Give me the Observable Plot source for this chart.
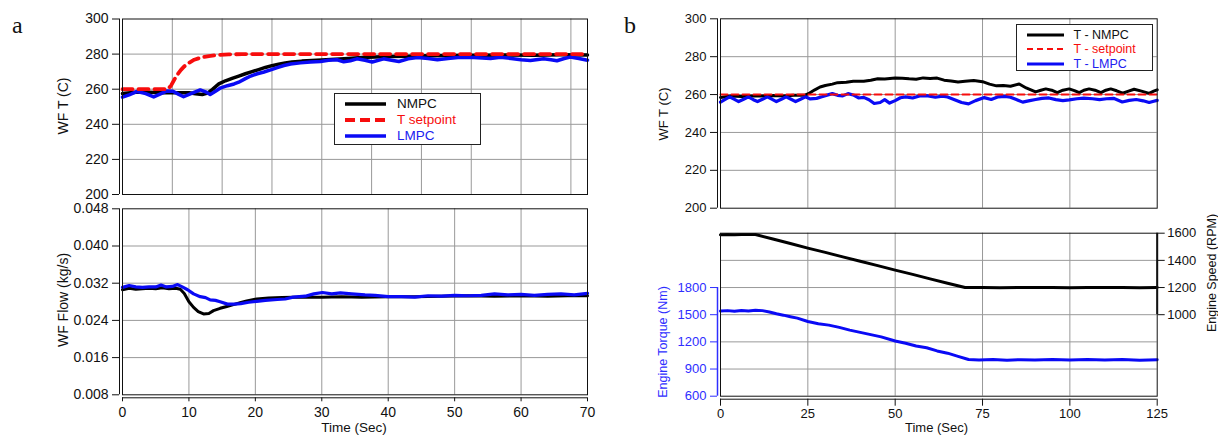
<!DOCTYPE html>
<html><head><meta charset="utf-8">
<script src="https://cdn.jsdelivr.net/npm/d3@7"></script>
<script src="https://cdn.jsdelivr.net/npm/@observablehq/plot@0.6"></script>
<style>
body{margin:0;background:#fff;}
#root{position:relative;width:1218px;height:436px;overflow:hidden;font-family:"Liberation Sans",Arial,Helvetica,sans-serif;color:#111;}
.vlab{position:absolute;transform:translate(-50%,-50%) rotate(-90deg);white-space:nowrap;line-height:1;}
.hlab{position:absolute;transform:translateX(-50%);white-space:nowrap;line-height:1;}
.panel{position:absolute;font-family:"Liberation Serif","Times New Roman",serif;font-size:24px;line-height:1;}
.legend{position:absolute;border:1px solid #222;background:#fff;box-sizing:border-box;}
.legend .row{position:absolute;left:0;right:0;height:16px;}
.legend svg{position:absolute;top:0;}
.legend span{position:absolute;top:0;line-height:16px;white-space:nowrap;}
</style></head>
<body><div id="root"></div>
<script>
// ---------- data ----------
// Panel a, top: working-fluid temperature (C) vs time (s)
const aSetpointT = [[0,260],[6.8,260],[7.3,262],[7.8,265.5],[8.3,268.5],[8.8,271],[9.3,273],[10,275],[10.8,276.8],[11.8,278],[13,278.9],[14.5,279.5],[16,279.8],[18,280],[70,280]];
const aNmpcT = [[0,257.5],[2,258.2],[4,258.3],[6,258],[8,258],[10,258],[11,257.4],[12,257],[12.8,257.8],[13.5,259.8],[14.5,263],[15.5,264.8],[16.5,266.2],[17.5,267.5],[18.5,268.8],[19.5,270],[20.5,271.2],[21.5,272.4],[22.5,273.4],[23.5,274.3],[24.5,275],[25.5,275.5],[27,276],[28.5,276.3],[30,276.6],[32,277],[34,277.5],[36,278],[38,278.3],[40,278.6],[43,278.8],[46,279],[50,279.2],[54,279.4],[58,279.5],[62,279.4],[66,279.6],[70,279.5]];
const aLmpcT = [[0,255.5],[1,256.8],[2.2,258.7],[3.5,257.5],[4.7,255.6],[5.8,257.5],[6.7,259],[7.6,258.8],[8.4,257.2],[9.2,255.7],[10.3,257.5],[11.7,259.6],[12.5,258.5],[13.2,257],[14,258.8],[14.8,260.8],[15.8,262],[16.8,263],[17.5,264],[18.5,266],[19.3,267.5],[20.3,268.8],[21.3,269.8],[22.3,271],[23.3,272.3],[24.3,273.5],[25.3,274.4],[26.8,275],[28.3,275.5],[29.8,275.8],[31,276.5],[32.3,276.8],[33.3,275.6],[34.3,276.2],[35.3,277.3],[36.5,276.5],[37.6,275.5],[39.3,277.3],[40.5,276.5],[41.6,275.8],[43,277.3],[44.4,278],[46,277.5],[47.4,276.8],[49,277.5],[50.5,278],[52.9,278],[55.4,277.5],[56.9,278.2],[58.5,277.5],[60,276.8],[61.4,276.4],[63.4,277.4],[64.5,276.8],[65.4,276.2],[66.5,277.5],[67.4,278.3],[68.7,277.5],[70,276.5]];
// Panel a, bottom: working-fluid flow (kg/s)
const aNmpcFlow = [[0,0.0306],[1,0.0309],[2,0.0307],[3,0.0308],[4,0.0309],[5,0.0308],[6,0.0310],[7,0.0308],[8,0.0309],[8.7,0.0307],[9.3,0.0298],[10,0.0280],[10.7,0.0268],[11.4,0.0259],[12.2,0.0254],[13,0.0255],[13.7,0.0261],[14.7,0.0266],[15.7,0.0270],[16.7,0.0274],[17.7,0.0278],[18.7,0.0282],[20.2,0.0286],[22,0.0288],[24,0.0289],[25.7,0.0290],[28,0.0290],[30,0.0290],[33,0.0291],[36,0.0290],[40,0.0291],[44,0.0291],[48,0.0292],[52,0.0293],[56,0.0292],[60,0.0293],[64,0.0292],[67,0.0293],[70,0.0293]];
const aLmpcFlow = [[0,0.0311],[1,0.0315],[2,0.0312],[3,0.0311],[4,0.0312],[5,0.0312],[5.8,0.0316],[6.6,0.0312],[7.5,0.0313],[8.3,0.0317],[9,0.0312],[9.8,0.0306],[10.7,0.0297],[11.7,0.0291],[12.5,0.0289],[13.2,0.0284],[14,0.0283],[14.7,0.0280],[15.8,0.0275],[16.8,0.0275],[17.8,0.0276],[19,0.0279],[20.2,0.0281],[21.5,0.0283],[23.3,0.0285],[24.5,0.0286],[25.7,0.0290],[27.5,0.0292],[28.8,0.0297],[30.1,0.0300],[31.5,0.0297],[32.8,0.0299],[34.5,0.0297],[36.5,0.0295],[38,0.0294],[40,0.0291],[42,0.0291],[44,0.0290],[46,0.0293],[48,0.0292],[50,0.0294],[52,0.0293],[54,0.0294],[56,0.0297],[58,0.0295],[60,0.0296],[62,0.0294],[64,0.0296],[66,0.0297],[68,0.0295],[70,0.0298]];
// Panel b, top: temperature (C)
const bSetpointT = [[0,260],[125,260]];
const bNmpcT = [[0,258.5],[3,259.2],[6,259],[9,259.3],[12,259.2],[15,259.5],[18,259.3],[21,259.6],[24,259.6],[25.5,260.8],[27,262.5],[28.5,264],[30,264.8],[32,265.5],[33.5,266.3],[36,266.5],[38,267],[41,267],[43,267.6],[45,268.3],[47,268.2],[50,268.8],[52,268.6],[54,268.3],[56,268.1],[58,268.8],[60,268.5],[62,268.7],[64,267.6],[66,267.2],[68,266.6],[70,267],[72.5,267.4],[75,266.8],[77,265.5],[79,264.6],[81,264.8],[83,264.4],[85.5,265.6],[87.5,263.5],[90.2,261.4],[91.7,262.3],[93.1,263],[94.8,262.3],[96.4,261],[98,262.3],[99.8,263],[101.3,262.1],[102.7,261],[104,262.3],[105.5,263],[107.2,262.3],[108.9,261],[110.3,262.3],[111.7,263],[113.4,262],[115.1,260.7],[116.8,261.8],[118.4,262.8],[120.5,261.8],[122.7,260.6],[124,261.8],[125,262.5]];
const bLmpcT = [[0,256],[1.2,257.3],[2.6,258.8],[4,257.5],[5.2,256.3],[6.6,257.5],[8,258.8],[9.4,257.3],[10.6,256.3],[12,257.5],[13.4,258.8],[14.8,257.5],[16,256.3],[17.4,257.5],[18.8,258.8],[20.2,257.5],[21.5,256.3],[22.9,257.5],[24.3,258.8],[25.7,257.7],[27.5,258],[29,258.8],[30.5,259.7],[32,260.5],[33.5,259.6],[35,259.3],[36.5,260.5],[38,259.8],[39.5,258.2],[41,258.5],[42.5,257.3],[44,255.3],[45.7,255.8],[47,257.3],[48.4,255.5],[50,256.8],[51.5,258.3],[53,258.8],[55,258.2],[57,259.3],[59,259.4],[61.5,258.6],[63.5,259.2],[65,258.7],[67,257.3],[69,255.8],[71,255.1],[73,256.8],[75.5,258.4],[77.5,257.4],[79.5,258.8],[81.5,259],[83,258.6],[84.5,257.5],[86.5,256],[88.5,256.8],[90.2,257.4],[92,258],[94,258.2],[96,257.3],[98,256.8],[99.8,257.2],[102,257.8],[104,258.1],[106.5,257.8],[108.5,257.3],[110.5,257.8],[112.5,258],[115,256.1],[117,256.9],[119,257.4],[121,256.7],[122.7,255.8],[124,256.5],[125,256.9]];
// Panel b, bottom: engine speed (RPM) and torque (Nm)
const bSpeed = [[0,1588],[2,1591],[4,1589],[6,1591],[8,1590],[10,1590],[15,1557],[20,1524],[25,1490],[30,1459],[35,1426],[40,1394],[45,1361],[50,1328],[55,1297],[60,1264],[65,1232],[70,1200],[75,1201],[80,1199],[85,1200],[90,1201],[95,1200],[100,1199],[105,1200],[110,1201],[115,1200],[120,1199],[125,1200]];
const bTorque = [[0,1540],[2,1545],[4,1538],[6,1547],[8,1542],[10,1548],[12,1545],[14,1530],[16,1510],[18,1495],[20,1478],[22,1462],[25,1425],[28,1400],[31,1385],[34,1360],[37,1330],[40,1305],[43,1280],[46,1255],[50,1210],[53,1185],[56,1155],[59,1135],[62,1100],[65,1075],[68,1040],[71,1005],[74,1000],[78,1005],[82,998],[86,1003],[90,1000],[95,1006],[100,999],[105,1004],[110,1000],[115,1005],[120,998],[125,1002]];
// tick labels
const aTempTicks = [200,220,240,260,280,300];
const aFlowTicks = [0.008,0.016,0.024,0.032,0.040,0.048];
const aTimeTicks = [0,10,20,30,40,50,60,70];
const aTopGridTimes = [7.5,15,22.5,30,37.5,45,52.5,60,67.5];
const bTempTicks = [200,220,240,260,280,300];
const bTimeTicks = [0,25,50,75,100,125];
const torqueTicks = [600,900,1200,1500,1800];
const speedTicks = [1000,1200,1400,1600];
const torqueGrid = [900,1200,1500,1800,2100];

// ---------- drawing ----------
const root = document.getElementById("root");
const FONT = '"Liberation Sans", Arial, Helvetica, sans-serif';
const BLACK = "#000", BLUE = "#0a0af5", RED = "#f70d0d", GRID = "#999", AXBLUE = "#2e2eff";
const X = d => d[0], Y = d => d[1];
const plain = d => String(d);
const style = (fs) => ({fontFamily: FONT, fontSize: fs + "px", color: "#111", background: "transparent", overflow: "visible"});
function put(el, left, top) { el.style.position = "absolute"; el.style.left = left + "px"; el.style.top = top + "px"; root.appendChild(el); }
function html(cls, text, css) { const d = document.createElement("div"); d.className = cls; d.textContent = text; Object.assign(d.style, css); root.appendChild(d); return d; }

// speed is drawn on the torque scale (right axis 400–1600 RPM ↔ 600–2400 Nm)
const spToTq = s => 600 + (s - 400) * 1.5;
const tqToSp = v => Math.round((v - 600) / 1.5 + 400);

// Panel a top
put(Plot.plot({
  width: 600, height: 200, marginLeft: 122, marginRight: 13, marginTop: 18.5, marginBottom: 6,
  style: style(14),
  x: {domain: [0, 70], axis: null},
  y: {domain: [200, 300], axis: null},
  marks: [
    Plot.gridX(aTopGridTimes, {stroke: GRID, strokeOpacity: 1}),
    Plot.gridY(aTempTicks.slice(1, -1), {stroke: GRID, strokeOpacity: 1}),
    Plot.line(aNmpcT, {x: X, y: Y, stroke: BLACK, strokeWidth: 3.5}),
    Plot.line(aLmpcT, {x: X, y: Y, stroke: BLUE, strokeWidth: 3.5}),
    Plot.line(aSetpointT, {x: X, y: Y, stroke: RED, strokeWidth: 3.8, strokeDasharray: "10,6"}),
    Plot.frame({stroke: "#111"}),
    Plot.ruleX([0], {dx: -3, stroke: "#111"}),
    Plot.axisY(aTempTicks, {anchor: "left", tickSize: 7, tickPadding: 4, dx: -3, tickFormat: plain, label: null})
  ]
}), 0, 0);

// Panel a bottom
put(Plot.plot({
  width: 600, height: 236, marginLeft: 122, marginRight: 13, marginTop: 8.3, marginBottom: 41.7,
  style: style(14),
  x: {domain: [0, 70], axis: null},
  y: {domain: [0.008, 0.048], axis: null},
  marks: [
    Plot.gridX(aTimeTicks.slice(1, -1), {stroke: GRID, strokeOpacity: 1}),
    Plot.gridY(aFlowTicks.slice(1, -1), {stroke: GRID, strokeOpacity: 1}),
    Plot.line(aNmpcFlow, {x: X, y: Y, stroke: BLACK, strokeWidth: 3}),
    Plot.line(aLmpcFlow, {x: X, y: Y, stroke: BLUE, strokeWidth: 3.2}),
    Plot.frame({stroke: "#111"}),
    Plot.ruleX([0], {dx: -3, stroke: "#111"}),
    Plot.axisY(aFlowTicks, {anchor: "left", tickSize: 7, tickPadding: 4, dx: -3, tickFormat: d3.format(".3f"), label: null}),
    Plot.ruleY([0.008], {dy: 3, stroke: "#111"}),
    Plot.axisX(aTimeTicks, {anchor: "bottom", tickSize: 4, tickPadding: 5, dy: 3, tickFormat: plain, label: null})
  ]
}), 0, 200);

// Panel b top
put(Plot.plot({
  width: 618, height: 215, marginLeft: 120, marginRight: 61.3, marginTop: 18.3, marginBottom: 7.3,
  style: style(13),
  x: {domain: [0, 125], axis: null},
  y: {domain: [200, 300], axis: null},
  marks: [
    Plot.gridX(bTimeTicks.slice(1, -1), {stroke: GRID, strokeOpacity: 1}),
    Plot.gridY(bTempTicks.slice(1, -1), {stroke: GRID, strokeOpacity: 1}),
    Plot.line(bNmpcT, {x: X, y: Y, stroke: BLACK, strokeWidth: 3}),
    Plot.line(bLmpcT, {x: X, y: Y, stroke: BLUE, strokeWidth: 3.2}),
    Plot.line(bSetpointT, {x: X, y: Y, stroke: RED, strokeWidth: 2, strokeDasharray: "7,4"}),
    Plot.frame({stroke: "#111"}),
    Plot.ruleX([0], {dx: -3, stroke: "#111"}),
    Plot.axisY(bTempTicks, {anchor: "left", tickSize: 7, tickPadding: 4, dx: -3, tickFormat: plain, label: null})
  ]
}), 600, 0);

// Panel b bottom (dual axis)
put(Plot.plot({
  width: 618, height: 221, marginLeft: 120, marginRight: 61.3, marginTop: 17.7, marginBottom: 40.3,
  style: style(13),
  x: {domain: [0, 125], axis: null},
  y: {domain: [600, 2400], axis: null},
  marks: [
    Plot.gridX(bTimeTicks.slice(1, -1), {stroke: GRID, strokeOpacity: 1}),
    Plot.gridY(torqueGrid, {stroke: GRID, strokeOpacity: 1}),
    Plot.line(bSpeed, {x: X, y: d => spToTq(d[1]), stroke: BLACK, strokeWidth: 3}),
    Plot.line(bTorque, {x: X, y: Y, stroke: BLUE, strokeWidth: 3}),
    Plot.frame({stroke: "#111"}),
    Plot.ruleX([0], {y1: 600, y2: 1800, dx: -3, stroke: AXBLUE, strokeWidth: 1.5}),
    Plot.axisY(torqueTicks, {anchor: "left", tickSize: 7, tickPadding: 4, dx: -3, stroke: AXBLUE, fill: AXBLUE, tickFormat: plain, label: null}),
    Plot.ruleX([125], {y1: spToTq(1000), y2: spToTq(1600), stroke: "#111", strokeWidth: 2}),
    Plot.axisY(speedTicks.map(spToTq), {anchor: "right", tickSize: 7, tickPadding: 3, tickFormat: v => String(tqToSp(v)), label: null}),
    Plot.ruleY([600], {dy: 3, stroke: "#111"}),
    Plot.axisX(bTimeTicks, {anchor: "bottom", tickSize: 7, tickPadding: 3, dy: 3, tickFormat: plain, label: null})
  ]
}), 600, 215);

// panel letters
html("panel", "a", {left: "12px", top: "13px"});
html("panel", "b", {left: "624px", top: "13px"});

// axis titles
html("vlab", "WF T (C)", {left: "62.5px", top: "106px", fontSize: "14px"});
html("vlab", "WF Flow (kg/s)", {left: "63px", top: "300px", fontSize: "14px"});
html("hlab", "Time (Sec)", {left: "354px", top: "421px", fontSize: "13.5px"});
html("vlab", "WF T (C)", {left: "662.5px", top: "113.5px", fontSize: "13px"});
html("vlab", "Engine Torque (Nm)", {left: "662.5px", top: "341.7px", fontSize: "12.5px", color: AXBLUE});
html("vlab", "Engine Speed (RPM)", {left: "1211.5px", top: "273px", fontSize: "12.5px"});
html("hlab", "Time (Sec)", {left: "936.5px", top: "421px", fontSize: "13px"});

// legends
function legend(left, top, w, h, rows, fs, sampleLeft, sampleW, textLeft) {
  const box = document.createElement("div");
  box.className = "legend";
  Object.assign(box.style, {left: left + "px", top: top + "px", width: w + "px", height: h + "px", fontSize: fs + "px"});
  rows.forEach(r => {
    const row = document.createElement("div");
    row.className = "row";
    row.style.top = (r.cy - 8) + "px";
    const svg = d3.create("svg").attr("width", sampleW).attr("height", 16).style("left", sampleLeft + "px");
    svg.append("line").attr("x1", 0).attr("x2", sampleW).attr("y1", 8).attr("y2", 8)
      .attr("stroke", r.color).attr("stroke-width", r.width).attr("stroke-dasharray", r.dash || null);
    row.appendChild(svg.node());
    const sp = document.createElement("span");
    sp.textContent = r.label; sp.style.left = textLeft + "px"; sp.style.color = r.text;
    row.appendChild(sp);
    box.appendChild(row);
  });
  root.appendChild(box);
}
legend(334, 93, 147, 52, [
  {label: "NMPC", color: BLACK, text: "#111", width: 3.5, cy: 10},
  {label: "T setpoint", color: RED, text: RED, width: 3.8, dash: "10,5", cy: 26},
  {label: "LMPC", color: BLUE, text: "#2020f0", width: 3.5, cy: 42}
], 13.5, 10, 41, 62);
legend(1015.5, 24, 137.5, 47, [
  {label: "T - NMPC", color: BLACK, text: "#111", width: 3, cy: 9.5},
  {label: "T - setpoint", color: RED, text: RED, width: 2, dash: "6,4", cy: 24},
  {label: "T - LMPC", color: BLUE, text: "#2020f0", width: 3, cy: 38.5}
], 12.5, 10, 37, 57);
</script>
</body></html>
